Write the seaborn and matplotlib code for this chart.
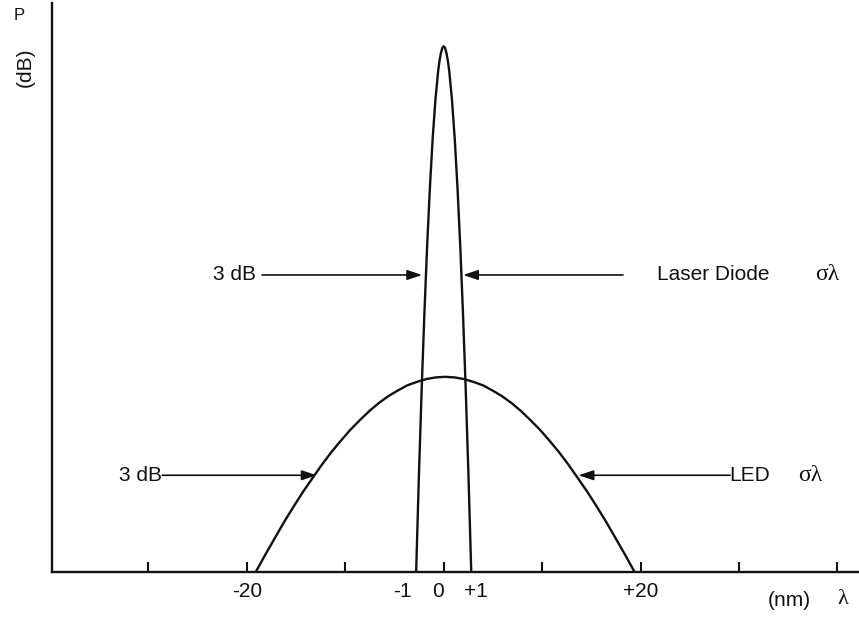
import numpy as np
import pandas as pd
import matplotlib
matplotlib.use("Agg")
import matplotlib.pyplot as plt
import seaborn as sns

# Schematic wavelength axis: one tick step = 10 units, centre wavelength at 0
tick_marks = [-30, -20, -10, 0, 10, 20, 30, 40]
label_positions = [-20, -4.2, -0.6, 3.3, 20]
tick_labels = ["-20", "-1", "0", "+1", "+20"]

# Laser diode emission (narrow line)
laser_x = [-2.8, -2.52, -2.24, -1.96, -1.68, -1.4, -1.12, -0.84, -0.56, -0.42, -0.28,
           -0.14, 0.0, 0.14,
           0.28, 0.42, 0.56, 0.84, 1.12, 1.4, 1.68, 1.96, 2.24, 2.52, 2.8]
laser_p = [0.0, 0.168, 0.320, 0.455, 0.574, 0.676, 0.762, 0.830, 0.881, 0.899, 0.912,
           0.921, 0.924, 0.921,
           0.912, 0.899, 0.881, 0.830, 0.762, 0.676, 0.574, 0.455, 0.320, 0.168, 0.0]

# LED emission (broad line)
led_x = [-19.1, -18.14, -17.18, -16.21, -15.25, -14.29, -13.33, -12.36, -11.4, -10.44,
         -9.48, -8.51, -7.55, -6.59, -5.63, -4.66, -3.7, -2.74, -1.78, -0.81,
         0.15,
         1.11, 2.08, 3.04, 4.0, 4.96, 5.93, 6.89, 7.85, 8.81, 9.78,
         10.74, 11.7, 12.66, 13.63, 14.59, 15.55, 16.51, 17.48, 18.44, 19.4]
led_p = [0.0, 0.030, 0.059, 0.088, 0.115, 0.141, 0.165, 0.189, 0.211, 0.231,
         0.250, 0.267, 0.283, 0.297, 0.309, 0.319, 0.328, 0.334, 0.339, 0.342,
         0.343,
         0.342, 0.339, 0.334, 0.328, 0.319, 0.309, 0.297, 0.283, 0.267, 0.250,
         0.231, 0.211, 0.189, 0.165, 0.141, 0.115, 0.088, 0.059, 0.030, 0.0]

# 3 dB markers: (text, text x, arrow start x, arrow tip x, level)
left_marks = [("3 dB", -19.06, -18.45, -2.19, 0.522),
              ("3 dB", -28.6, -28.6, -12.9, 0.170)]
# Right-hand arrows: (arrow start x, arrow tip x, level)
right_marks = [(18.22, 1.97, 0.522), (29.1, 13.7, 0.170)]

sns.set_theme(style="white")
plt.rcParams["font.family"] = ["Liberation Sans", "DejaVu Sans"]

FS = 15
INK = "#111111"
GREEK = ["Liberation Serif", "DejaVu Serif"]

fig = plt.figure(figsize=(8.59, 6.19), dpi=100)
ax = fig.add_axes([52 / 859, 47 / 619, 807 / 859, 569 / 619])

laser_df = pd.DataFrame({"wl": laser_x, "p": laser_p})
led_df = pd.DataFrame({"wl": led_x, "p": led_p})
sns.lineplot(data=laser_df, x="wl", y="p", ax=ax, color=INK, lw=1.7, sort=False)
sns.lineplot(data=led_df, x="wl", y="p", ax=ax, color=INK, lw=1.7, sort=False)

ax.set_xlim(-39.8, 42.2)
ax.set_ylim(0, 1)
ax.set_xlabel("")
ax.set_ylabel("")
ax.set_yticks([])

for side in ("top", "right"):
    ax.spines[side].set_visible(False)
for side in ("left", "bottom"):
    ax.spines[side].set_color(INK)
    ax.spines[side].set_linewidth(1.7)

# Tick marks without labels, labels on their own (zero-length) ticks
ax.xaxis.remove_overlapping_locs = False
ax.set_xticks(tick_marks)
ax.set_xticklabels([""] * len(tick_marks))
ax.tick_params(axis="x", which="major", bottom=True, direction="in",
               length=7, width=1.5, color=INK)
ax.set_xticks(label_positions, tick_labels, minor=True)
ax.tick_params(axis="x", which="minor", bottom=True, length=0, pad=7,
               labelsize=FS, labelcolor=INK)

arrow_kw = dict(arrowstyle="-|>,head_length=0.9,head_width=0.3", color=INK,
                lw=1.2, shrinkA=0, shrinkB=0, mutation_scale=10)


def level_arrow(x0, x1, y):
    ax.annotate("", xy=(x1, y), xytext=(x0, y), arrowprops=arrow_kw)


for text, tx, x0, x1, y in left_marks:
    ax.text(tx, y, text, ha="right", va="center", fontsize=FS, color=INK)
    level_arrow(x0, x1, y)

for x0, x1, y in right_marks:
    level_arrow(x0, x1, y)

ax.text(27.4, 0.522, "Laser Diode", ha="center", va="center", fontsize=FS, color=INK)
ax.text(39.0, 0.522, "σλ", ha="center", va="center", fontsize=FS + 2, color=INK,
        family=GREEK)
ax.text(29.0, 0.170, "LED", ha="left", va="center", fontsize=FS, color=INK)
ax.text(37.2, 0.170, "σλ", ha="center", va="center", fontsize=FS + 2, color=INK,
        family=GREEK)

# Axis captions
fig.text(19 / 859, 1 - 15 / 619, "P", ha="center", va="center", fontsize=12, color=INK)
fig.text(25 / 859, 1 - 67 / 619, "(dB)", ha="center", va="center", rotation=90,
         fontsize=FS, color=INK)
fig.text(768 / 859, 1 - 600 / 619, "(nm)", ha="left", va="center", fontsize=FS, color=INK)
fig.text(848 / 859, 1 - 600 / 619, "λ", ha="right", va="center", fontsize=FS + 1,
         color=INK, family=GREEK)

fig.savefig("out.png", dpi=100, facecolor="white")
